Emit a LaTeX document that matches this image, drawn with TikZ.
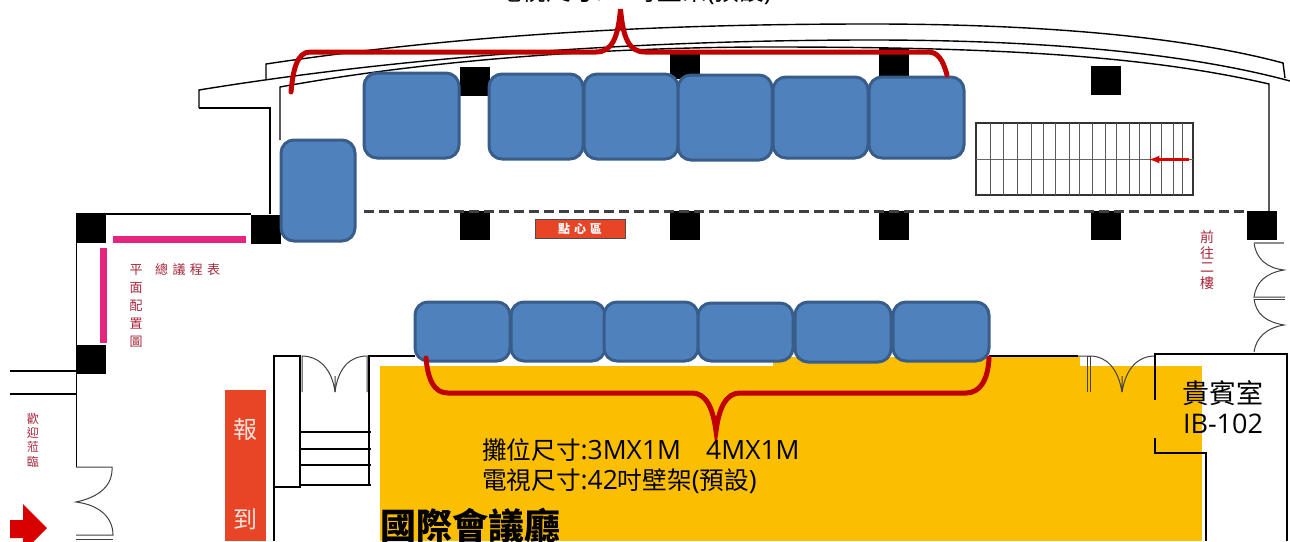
\documentclass[tikz,border=0pt]{standalone}
\usepackage{fontspec}
\usepackage[svgnames]{xcolor}
\setmainfont{Open Sans}
\newfontfamily\cjk{Noto Sans CJK TC}
\definecolor{boothfill}{HTML}{4F81BD}
\definecolor{boothline}{HTML}{385D8A}
\definecolor{bracered}{HTML}{C00000}
\definecolor{hallyellow}{HTML}{FBBE00}
\definecolor{deskred}{HTML}{E84426}
\definecolor{barpink}{HTML}{E5247F}
\definecolor{signred}{HTML}{A8283C}
\tikzset{
  booth/.style={draw=boothline,fill=boothfill,line width=3pt,rounded corners=13pt,inner sep=0pt,outer sep=0pt},
  pillar/.style={fill=black,draw=none},
  wall/.style={draw=black,line width=1.4pt},
  thinwall/.style={draw=black!75,line width=1pt},
  brace/.style={draw=bracered,line width=5pt,line cap=round},
  sign/.style={text=signred,font=\cjk\fontsize{13pt}{13pt}\selectfont,inner sep=0pt},
  caption/.style={font=\fontsize{26.5pt}{30pt}\selectfont,inner sep=0pt,anchor=west}
}
\newcommand{\capcjk}[1]{{\cjk\fontsize{24.6pt}{30pt}\selectfont #1}}
\begin{document}
\begin{tikzpicture}[x=1pt,y=-1pt]
  \useasboundingbox (0,0) rectangle (1290,541);
  \fill[white] (0,0) rectangle (1290,541);
  \fill[hallyellow] (380,366) rectangle (1202,541);
  \fill[hallyellow] (773,357) rectangle (1080,366);

  % roof
  \draw[wall] (266,79) -- (266,64) .. controls (480,32) and (680,24) .. (871,24)
    .. controls (1050,24) and (1190,38) .. (1283,63) -- (1285,78);
  \draw[wall] (199,108) -- (199,90) .. controls (420,54) and (660,40) .. (871,40)
    .. controls (1050,40) and (1190,54) .. (1290,81);
  \draw[wall] (270,214) -- (270,108) -- (199,108);
  \draw[wall] (280,140) -- (280,87) .. controls (450,56) and (640,47) .. (768,47)
    .. controls (980,47) and (1140,54) .. (1269,84) -- (1269,211);

  % left room
  \draw[wall] (76,214) -- (251,214);
  \draw[wall] (76.5,243) -- (76.5,467);
  \draw[wall] (10,371) -- (76,371);
  \draw[wall] (10,394) -- (76,394);
  \draw[thinwall] (76,467) -- (112,467) .. controls (113,485) and (100,497) .. (76,502)
    .. controls (100,505) and (113,518) .. (113,535) -- (76,535);
  \draw[thinwall] (76,539) -- (113,539);

  % lobby stairs and door
  \draw[wall] (274,541) -- (274,356) -- (300,356) -- (300,487) -- (274,487);
  \draw[wall] (369,392) -- (369,356) -- (415,356);
  \draw[wall] (369,392) -- (369,485);
  \foreach \y in {432,449,465,485}
    \draw[wall] (300,\y) -- (371,\y);
  \draw[thinwall] (302,392) -- (302,356) .. controls (318,356) and (332,368) .. (335,392) -- (335,376);
  \draw[thinwall] (367,392) -- (367,356) .. controls (350,356) and (338,368) .. (335,392);

  % hall wall and VIP room
  \draw[wall] (989,356) -- (1078,356);
  \draw[thinwall] (1087,392) -- (1087,356) -- (1090,356) -- (1090,392);
  \draw[thinwall] (1078,356) -- (1090,356) .. controls (1106,356) and (1118,368) .. (1122,392) -- (1122,376);
  \draw[thinwall] (1155,356) .. controls (1138,356) and (1126,368) .. (1122,392);
  \draw[wall] (1155,400) -- (1155,354) -- (1287,354) -- (1287,541);
  \draw[wall] (1155,438) -- (1155,453) -- (1206,453) -- (1206,541);

  % doors to second floor
  \draw[thinwall] (1254,243) .. controls (1256,258) and (1266,268) .. (1284,270)
    .. controls (1266,273) and (1256,282) .. (1254,297) -- (1285,297);
  \draw[thinwall] (1254,299) -- (1285,299);
  \draw[thinwall] (1254,299) .. controls (1256,314) and (1266,322) .. (1284,325)
    .. controls (1266,328) and (1256,338) .. (1254,352);
  \draw[draw=black!45,line width=2pt] (1254,243) -- (1284,243);

  % pillars
  \foreach \x/\y in {76/214,251/215,460/67,460/211,670/50,670/211,879/48,879/211,1091/66,1091/211,1247/211,76/345}
    \fill[pillar] (\x,\y) rectangle +(30,29);

  \draw[draw=black!75,line width=2.4pt,dash pattern=on 10pt off 5pt] (364,211.5) -- (1247,211.5);

  % stairs up
  \draw[draw=black!80,line width=1.3pt] (976,123) rectangle (1193,195);
  \draw[draw=black!60,line width=1pt] (976,159) -- (1193,159);
  \foreach \x in {990,1003,1017,1031,1043,1055,1069,1079,1092,1105,1116,1129,1139,1150,1161,1173,1182}
    \draw[draw=black!65,line width=1pt] (\x,123) -- (\x,195);
  \draw[-latex,draw=red!85!black,line width=2.5pt] (1189,159.5) -- (1149,159.5);

  % pink boards
  \fill[barpink] (113,236) rectangle (246,243);
  \fill[barpink] (100,248) rectangle (106.5,343);

  % booths
  \foreach \n/\x/\y/\w/\h in {sideBooth/318/190.5/74/101,
    upA/411.5/115.5/95/85,upB/536/116.5/94/85,upC/631/116.5/94/85,upD/725/117.5/94/85,
    upE/820.5/117.5/95/81,upF/916.5/117.5/95/81,
    lowA/462.5/331.5/95/59,lowB/558/331.5/94/59,lowC/651/331.5/94/59,
    lowD/745.5/332/95/58,lowE/843/332/96/60,lowF/941/331.5/96/59}
    \node[booth,minimum width=\w pt,minimum height=\h pt] (\n) at (\x,\y) {};

  % braces
  \draw[brace] (291,92) .. controls (293,70) and (297,52) .. (310,52) -- (596,52)
    .. controls (612,52) and (618,38) .. (620.5,9)
    .. controls (623,38) and (629,52) .. (645,52) -- (928,52)
    .. controls (938,52) and (943,60) .. (947,75);
  \draw[brace] (426,358) .. controls (428,380) and (434,393) .. (448,393) -- (692,393)
    .. controls (706,393) and (713,408) .. (716,431)
    .. controls (719,408) and (726,393) .. (740,393) -- (966,393)
    .. controls (980,393) and (988,380) .. (989,358);

  % signs
  \node[fill=deskred,draw=black!70,line width=1pt,minimum width=90pt,minimum height=19pt,
    inner sep=0pt,text=white,font=\cjk\bfseries\fontsize{12pt}{12pt}\selectfont] (snack) at (580,228.5) {點\,\,心\,\,區};
  \fill[deskred] (225,390) rectangle (266,541);
  \node[text=white!85!deskred,inner sep=0pt,font=\cjk\fontsize{24pt}{24pt}\selectfont] (regA) at (245,429) {報};
  \node[text=white!85!deskred,inner sep=0pt,font=\cjk\fontsize{24pt}{24pt}\selectfont] (regB) at (245,519) {到};
  \fill[red!85!black] (10,520) -- (23,520) -- (23,504) -- (47,528) -- (23,552) -- (23,538) -- (10,538) -- cycle;

  \node[sign] (ping) at (136,270) {平};
  \node[sign,anchor=west] (zong) at (155,270) {總\,\,議\,\,程\,\,表};
  \foreach \c/\y in {面/288,配/306,置/324,圖/342}
    \node[sign] (pm\y) at (136,\y) {\c};
  \foreach \c/\y in {歡/419,迎/433,蒞/447,臨/462}
    \node[sign,font=\cjk\fontsize{12pt}{12pt}\selectfont] (wel\y) at (33,\y) {\c};
  \foreach \c/\y in {前/237,往/253,二/268,樓/283}
    \node[sign,font=\cjk\fontsize{14pt}{14pt}\selectfont] (up\y) at (1207,\y) {\c};

  % captions
  \node[caption] (tvTop) at (497,-8) {\capcjk{電視尺寸}:42\capcjk{吋壁架}(\capcjk{預設})};
  \node[caption] (sizeLow) at (482,450) {\capcjk{攤位尺寸}:3MX1M\ \ \ \,4MX1M};
  \node[caption] (tvLow) at (482,481) {\capcjk{電視尺寸}:42\capcjk{吋壁架}(\capcjk{預設})};
  \node[inner sep=0pt,anchor=west,font=\cjk\bfseries\fontsize{36pt}{36pt}\selectfont] (hall) at (380,526) {國際會議廳};
  \node[inner sep=0pt,font=\cjk\fontsize{27pt}{27pt}\selectfont] (vip) at (1223,393) {貴賓室};
  \node[inner sep=0pt,font=\fontsize{27pt}{27pt}\selectfont] (vipNo) at (1223,424) {IB-102};
\end{tikzpicture}
\end{document}
